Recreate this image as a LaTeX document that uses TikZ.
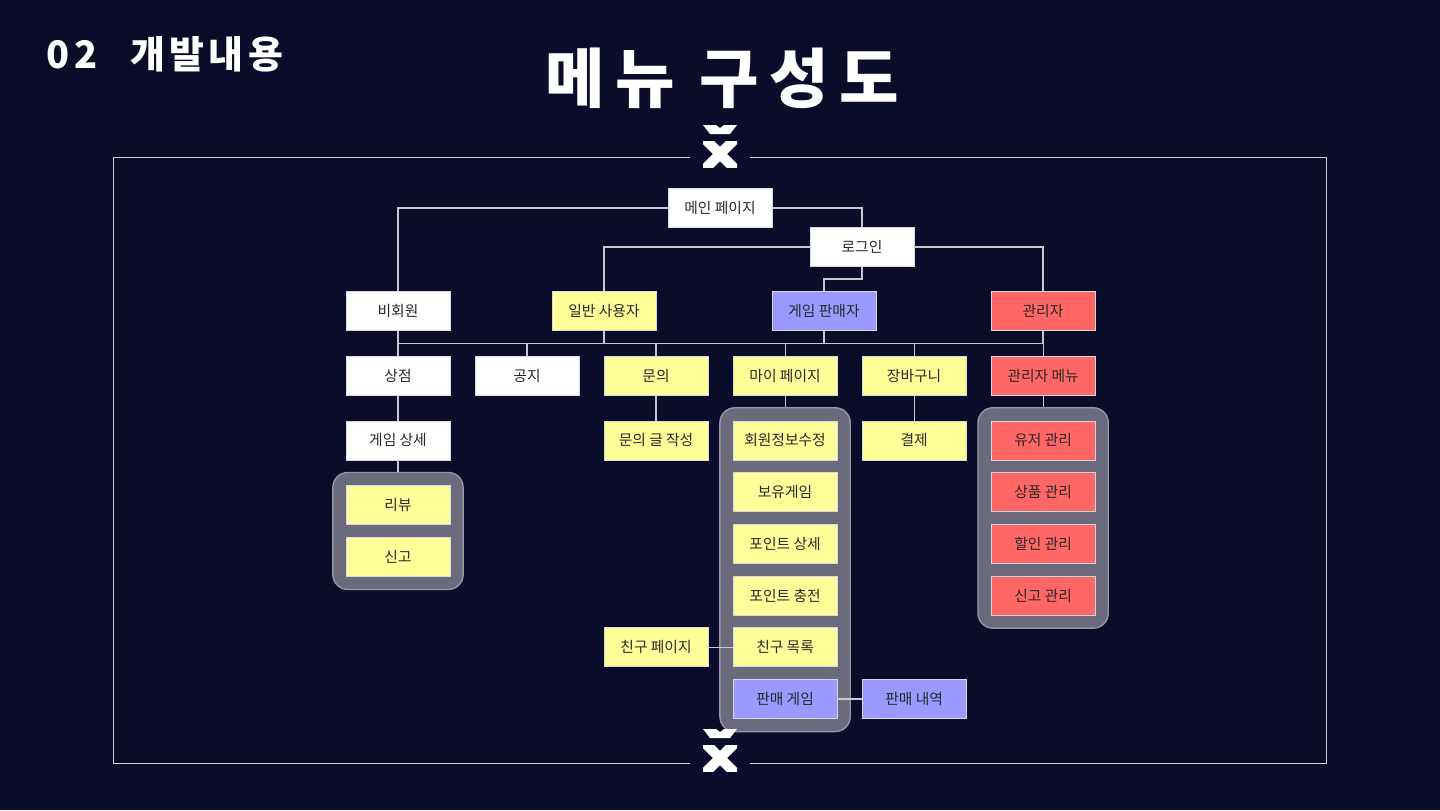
\documentclass[tikz,border=0pt]{standalone}
\usepackage{fontspec}
\setmainfont{Noto Sans CJK KR}
\newfontfamily\secfont{Noto Sans CJK KR}[LetterSpace=12]
\newfontfamily\bigheadfont{Noto Sans CJK KR}[LetterSpace=16]
\usepackage{tikz}
\usetikzlibrary{positioning, fit, calc, backgrounds}
\usepackage{xcolor}
\definecolor{bgnavy}{RGB}{11,12,42}
\definecolor{boxline}{RGB}{215,215,222}
\definecolor{boxtext}{RGB}{40,40,40}
\definecolor{usryellow}{RGB}{255,255,153}
\definecolor{selpurple}{RGB}{153,153,255}
\definecolor{admred}{RGB}{255,102,102}
\definecolor{groupfill}{RGB}{106,106,124}
\definecolor{groupline}{RGB}{150,150,166}
\definecolor{linkgray}{RGB}{200,200,206}
\definecolor{framegray}{RGB}{205,205,212}

\begin{document}
\begin{tikzpicture}[node distance=0.625cm and 0.608cm,
  menubox/.style={
    rectangle, draw=boxline, line width=0.5pt, inner sep=0pt,
    minimum width=2.6cm, minimum height=0.975cm,
    font=\fontsize{10.5}{12}\selectfont, text=boxtext
  },
  plain/.style={menubox, fill=white},
  usr/.style={menubox, fill=usryellow},
  sel/.style={menubox, fill=selpurple},
  adm/.style={menubox, fill=admred},
  group/.style={rectangle, rounded corners=0.375cm, fill=groupfill,
    draw=groupline, line width=1pt, inner sep=0.32cm},
  link/.style={draw=linkgray, line width=0.8pt}]
\begin{pgfonlayer}{background}
\fill[bgnavy] (0,0) rectangle (36,-20.25);
\end{pgfonlayer}
\useasboundingbox (0,0) rectangle (36,-20.25);

% headings
\node[anchor=west, text=white, font=\secfont\fontsize{27}{30}\selectfont\bfseries] (section) at (1.05,-1.35) {02\hspace{0.85em}개발내용};
\node[text=white, font=\bigheadfont\fontsize{46}{50}\selectfont\bfseries] (title) at (18.05,-1.95) {메뉴 구성도};

% frame with the two cross marks
\draw[framegray, line width=0.6pt] (17.25,-3.925) -| (2.825,-19.075) -- (17.25,-19.075);
\draw[framegray, line width=0.6pt] (18.75,-3.925) -| (33.15,-19.075) -- (18.75,-19.075);
\foreach \dy in {0,-15.1} {
  \begin{scope}[yshift=\dy cm]
    \fill[white] (17.575,-3.125) -- (17.9,-3.125) -- (18,-3.2) -- (18.1,-3.125)
      -- (18.425,-3.125) -- (18.25,-3.35) -- (17.75,-3.35) -- cycle;
    \begin{scope}
      \clip (17.575,-3.525) rectangle (18.425,-4.175);
      \draw[white, line width=0.25cm] (17.6,-3.45) -- (18.4,-4.25);
      \draw[white, line width=0.25cm] (18.4,-3.45) -- (17.6,-4.25);
    \end{scope}
  \end{scope}
}

% top levels
\node[plain] (main) at (18,-5.2) {메인 페이지};
\node[plain] (login) at (21.55,-6.175) {로그인};
\node[plain] (guest) at (9.95,-7.775) {비회원};
\node[usr] (general) at (15.1,-7.775) {일반 사용자};
\node[sel] (seller) at (20.6,-7.775) {게임 판매자};
\node[adm] (admin) at (26.075,-7.775) {관리자};

% menus
\node[plain, below=of guest] (shop) {상점};
\node[plain, right=of shop] (notice) {공지};
\node[usr, right=of notice] (inquiry) {문의};
\node[usr, right=of inquiry] (mypage) {마이 페이지};
\node[usr, right=of mypage] (cart) {장바구니};
\node[adm, right=of cart] (adminmenu) {관리자 메뉴};

\node[plain, below=of shop] (detail) {게임 상세};
\node[usr, below=of detail] (review) {리뷰};
\node[usr, below=0.3cm of review] (report) {신고};

\node[usr, below=of inquiry] (write) {문의 글 작성};

\node[usr, below=of mypage] (profile) {회원정보수정};
\node[usr, below=0.3cm of profile] (owned) {보유게임};
\node[usr, below=0.3cm of owned] (pointinfo) {포인트 상세};
\node[usr, below=0.3cm of pointinfo] (charge) {포인트 충전};
\node[usr, below=0.3cm of charge] (friends) {친구 목록};
\node[sel, below=0.3cm of friends] (salegame) {판매 게임};
\node[usr, left=of friends] (friendpage) {친구 페이지};
\node[sel, right=of salegame] (salelog) {판매 내역};

\node[usr, below=of cart] (payment) {결제};

\node[adm, below=of adminmenu] (users) {유저 관리};
\node[adm, below=0.3cm of users] (goods) {상품 관리};
\node[adm, below=0.3cm of goods] (discount) {할인 관리};
\node[adm, below=0.3cm of discount] (reports) {신고 관리};

\begin{pgfonlayer}{background}
\node[group, fit=(review)(report)] (leftgrp) {};
\node[group, fit=(profile)(salegame)] (midgrp) {};
\node[group, fit=(users)(reports)] (rightgrp) {};
\end{pgfonlayer}

% links
\draw[link] (main.west) -| (guest.north);
\draw[link] (main.east) -| (login.north);
\draw[link] (login.west) -| (general.north);
\draw[link] (login.east) -| (admin.north);
\draw[link] (login.south) |- ($(login.south)!.5!(seller.north)$) -| (seller.north);
\coordinate (busL) at ($(guest.south)!.5!(shop.north)$);
\coordinate (busR) at (busL -| adminmenu.north);
\draw[link] (busL) -- (busR);
\foreach \n in {guest, general, seller, admin}
  \draw[link] (\n.south) -- (\n.south |- busL);
\foreach \n in {shop, notice, inquiry, mypage, cart, adminmenu}
  \draw[link] (\n.north |- busL) -- (\n.north);
\draw[link] (shop) -- (detail);
\draw[link] (detail) -- (leftgrp);
\draw[link] (inquiry) -- (write);
\draw[link] (mypage) -- (midgrp);
\draw[link] (cart) -- (payment);
\draw[link] (adminmenu) -- (rightgrp);
\draw[link] (friendpage) -- (friends);
\draw[link] (salegame) -- (salelog);
\end{tikzpicture}
\end{document}
